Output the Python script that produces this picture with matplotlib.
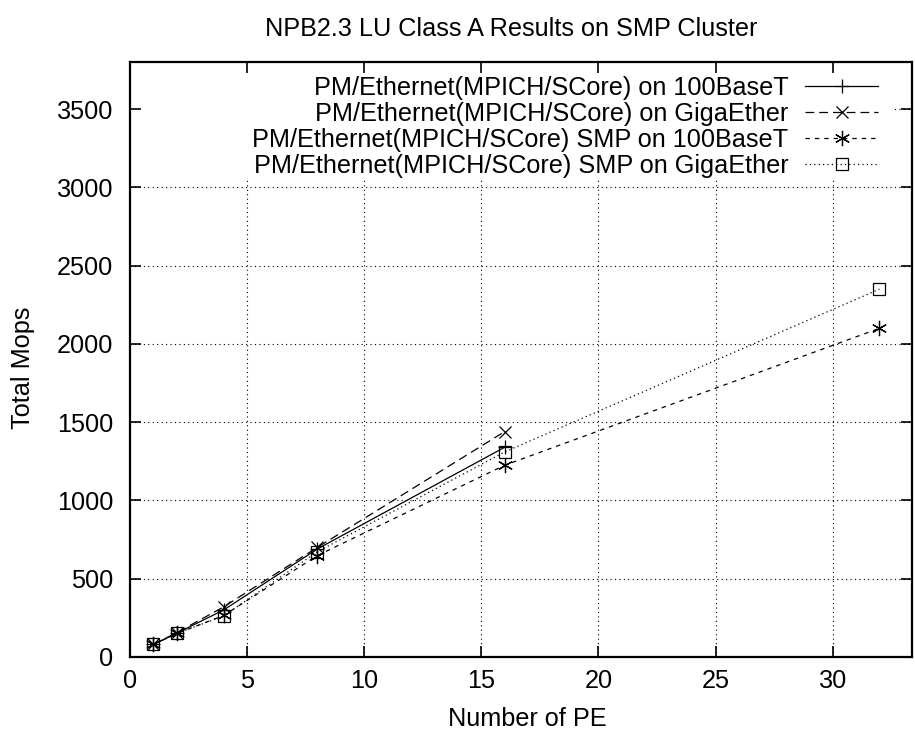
import matplotlib
matplotlib.use("Agg")
import matplotlib.pyplot as plt
from matplotlib.patches import Rectangle

plt.rcParams['font.family'] = ['Liberation Sans', 'DejaVu Sans']

pe_a = [1, 2, 4, 8, 16]
pe_b = [1, 2, 4, 8, 16, 32]
mops_100 = [80, 152, 300, 690, 1340]
mops_giga = [80, 155, 320, 700, 1440]
mops_smp_100 = [80, 150, 265, 648, 1225, 2100]
mops_smp_giga = [80, 150, 262, 672, 1310, 2350]

labels = [
    "PM/Ethernet(MPICH/SCore) on 100BaseT",
    "PM/Ethernet(MPICH/SCore) on GigaEther",
    "PM/Ethernet(MPICH/SCore) SMP on 100BaseT",
    "PM/Ethernet(MPICH/SCore) SMP on GigaEther",
]
xticks = list(range(0, 31, 5))
yticks = list(range(0, 3501, 500))

fs = 18.2
fig = plt.figure(figsize=(9.15, 7.32), dpi=100)
ax = fig.add_axes([0.142, 0.1025, 0.855, 0.8125])

lw = 0.9
ax.plot(pe_a, mops_100, color='black', linestyle='-', lw=lw,
        marker='+', markersize=10, mew=lw, label=labels[0])
ax.plot(pe_a, mops_giga, color='black', linestyle=(0, (7, 4)), lw=lw,
        marker='x', markersize=8.5, mew=lw, label=labels[1])
ax.plot(pe_b, mops_smp_100, color='black', linestyle=(0, (3.5, 4)), lw=lw,
        marker=(6, 2, 0), markersize=11, mew=lw, label=labels[2])
ax.plot(pe_b, mops_smp_giga, color='black', linestyle=(0, (1, 2.5)), lw=lw,
        marker='s', markersize=9, mew=lw, markerfacecolor='none', label=labels[3])

ax.set_xlim(0, 33.4)
ax.set_ylim(0, 3800)
ax.set_xticks(xticks)
ax.set_yticks(yticks)

# grid drawn by hand so the key box can hide it
for v in xticks[1:]:
    ax.axvline(v, linestyle=(0, (1, 3)), color='black', lw=0.8, zorder=0.5)
for v in yticks[1:]:
    ax.axhline(v, linestyle=(0, (1, 3)), color='black', lw=0.8, zorder=0.5)
ax.add_patch(Rectangle((0.0, 0.805), 0.9757, 0.195, transform=ax.transAxes,
                       facecolor='white', edgecolor='none', zorder=1))

ax.tick_params(direction='in', length=8, width=1.2, labelsize=fs,
               top=True, right=True)
ax.tick_params(axis='x', pad=9)
ax.tick_params(axis='y', pad=12)
for s in ax.spines.values():
    s.set_linewidth(1.6)

fig.suptitle("NPB2.3 LU Class A Results on SMP Cluster", fontsize=fs,
             x=0.5585, y=0.960, va='center')
ax.set_xlabel("Number of PE", fontsize=fs)
ax.xaxis.label.set_va('center')
ax.xaxis.set_label_coords(0.508, -0.104)
ax.set_ylabel("Total Mops", fontsize=fs)
ax.yaxis.label.set_va('center')
ax.yaxis.set_label_coords(-0.137, 0.487)

leg = ax.legend(loc='upper right', bbox_to_anchor=(0.9565, 0.977),
                frameon=False, markerfirst=False, fontsize=fs,
                handlelength=2.9, labelspacing=0.08, borderaxespad=0,
                borderpad=0, handletextpad=0.65)
for t in leg.get_texts():
    t.set_ha('right')
leg._legend_box.align = 'right'

fig.savefig("out.png", dpi=100)
